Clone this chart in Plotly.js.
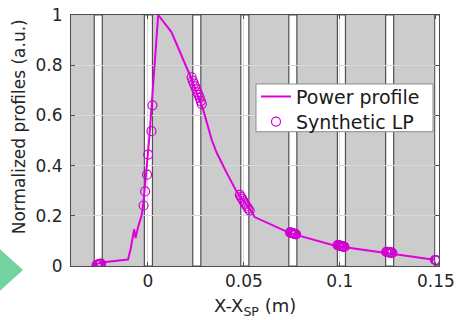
<!DOCTYPE html>
<html>
<head>
<meta charset="utf-8">
<script src="https://cdn.plot.ly/plotly-3.0.1.min.js"></script>
<style>html,body{margin:0;padding:0;background:#fff;}#chart{width:456px;height:320px;}</style>
</head>
<body>
<div id="chart"></div>
<script>
// Power profile (line)
const powerX = [-0.0285, -0.0233, -0.0103, -0.0089, -0.0071, -0.0064, -0.0050, -0.0033, -0.0024, -0.0010, -0.0004, 0.0007, 0.0054, 0.0123, 0.0219, 0.0288, 0.0332, 0.0358, 0.0410, 0.0462, 0.0505, 0.0540, 0.0556, 0.0740, 0.0980, 0.1240, 0.1492];
const powerY = [0.004, 0.015, 0.026, 0.070, 0.147, 0.111, 0.157, 0.200, 0.244, 0.350, 0.424, 0.504, 1.000, 0.932, 0.760, 0.624, 0.504, 0.452, 0.372, 0.297, 0.252, 0.217, 0.195, 0.131, 0.080, 0.053, 0.025];

// Synthetic LP (open circles)
const lpX = [
  -0.0267, -0.0263, -0.0259, -0.0255, -0.0251, -0.0247, -0.0243,
  -0.0022, -0.0014, -0.0004, 0.0002, 0.0019, 0.0024,
  0.0228, 0.0234, 0.0240, 0.0246, 0.0252, 0.0258, 0.0264, 0.0270, 0.0276, 0.0281,
  0.0479, 0.0485, 0.0491, 0.0497, 0.0503, 0.0509, 0.0516, 0.0523, 0.0530,
  0.0740, 0.0744, 0.0748, 0.0752, 0.0756, 0.0760, 0.0764, 0.0768, 0.0772,
  0.0988, 0.0992, 0.0996, 0.1000, 0.1004, 0.1008, 0.1012, 0.1016, 0.1020, 0.1024,
  0.1241, 0.1245, 0.1249, 0.1253, 0.1257, 0.1261, 0.1265, 0.1269, 0.1273,
  0.1495, 0.1498, 0.1501, 0.1504
];
const lpY = [
  0.004, 0.005, 0.006, 0.007, 0.008, 0.009, 0.010,
  0.241, 0.297, 0.364, 0.444, 0.537, 0.640,
  0.752, 0.738, 0.727, 0.716, 0.704, 0.692, 0.682, 0.670, 0.657, 0.645,
  0.283, 0.275, 0.268, 0.260, 0.252, 0.245, 0.237, 0.229, 0.221,
  0.134, 0.133, 0.132, 0.131, 0.130, 0.129, 0.128, 0.127, 0.126,
  0.083, 0.082, 0.082, 0.081, 0.080, 0.079, 0.078, 0.078, 0.077, 0.076,
  0.056, 0.056, 0.055, 0.055, 0.054, 0.054, 0.053, 0.053, 0.052,
  0.024, 0.023, 0.023, 0.022
];

// Probe gap positions (white stripes), left edges in m
const bandStart = [-0.0279, -0.0018, 0.0234, 0.0484, 0.0734, 0.0987, 0.1238, 0.1494];
const bandWidth = 0.0042;

const xTickVals = [0, 0.05, 0.1, 0.15];
const xTickText = ['0', '0.05', '0.1', '0.15'];
const yTickVals = [0, 0.2, 0.4, 0.6, 0.8, 1];
const yTickText = ['0', '0.2', '0.4', '0.6', '0.8', '1'];

const seriesNames = ['Power profile', 'Synthetic LP'];

const FONT = 'DejaVu Sans, sans-serif';
const MAG = '#e000e0';

const traces = [
  {x: powerX, y: powerY, type: 'scatter', mode: 'lines', name: seriesNames[0],
   line: {color: MAG, width: 2}, legend: 'legend'},
  {x: lpX, y: lpY, type: 'scatter', mode: 'markers', name: seriesNames[1],
   marker: {symbol: 'circle-open', size: 9, color: '#d000d0', line: {width: 1.2}}, legend: 'legend2'}
];

const shapes = bandStart.map(b => ({
  type: 'rect', xref: 'x', yref: 'paper', x0: b, x1: b + bandWidth, y0: 0, y1: 1,
  fillcolor: '#ffffff', line: {color: '#505050', width: 1.2}, layer: 'below'
}));
// legend frame
shapes.push({
  type: 'rect', xref: 'paper', yref: 'paper', x0: 0.5027, x1: 0.9837, y0: 0.5351, y1: 0.7251,
  fillcolor: '#ffffff', line: {color: '#8c8c8c', width: 1}, layer: 'above'
});
// green play-button fragment at the left edge
shapes.push({
  type: 'path', xref: 'paper', yref: 'paper',
  path: 'M -0.200,0.076 L -0.1304,-0.016 L -0.200,-0.108 Z',
  fillcolor: '#72d3a0', line: {width: 0}, layer: 'above'
});

const axisCommon = {
  showline: true, mirror: 'ticks', ticks: 'inside', ticklen: 4, tickwidth: 1,
  tickcolor: '#4d4d4d', linecolor: '#4d4d4d', linewidth: 1,
  showgrid: true, gridcolor: '#d9d9d9', gridwidth: 1, zeroline: false,
  tickfont: {family: FONT, size: 17, color: '#262626'}, tickmode: 'array'
};

const legendCommon = {
  xanchor: 'left', yanchor: 'middle', bgcolor: 'rgba(0,0,0,0)', borderwidth: 0,
  font: {family: FONT, size: 19, color: '#1a1a1a'}
};

const layout = {
  width: 456, height: 320,
  margin: {l: 71, r: 17, t: 15, b: 54},
  paper_bgcolor: '#ffffff', plot_bgcolor: '#cccccc',
  font: {family: FONT, color: '#262626'},
  showlegend: true,
  xaxis: Object.assign({}, axisCommon, {range: [-0.04, 0.1516], tickvals: xTickVals, ticktext: xTickText}),
  yaxis: Object.assign({}, axisCommon, {range: [0, 1], tickvals: yTickVals, ticktext: yTickText, ticklabelstandoff: 4}),
  legend: Object.assign({}, legendCommon, {x: 0.5027, y: 0.6745}),
  legend2: Object.assign({}, legendCommon, {x: 0.5027, y: 0.5749}),
  shapes: shapes,
  annotations: [
    {text: 'Normalized profiles (a.u.)', xref: 'paper', yref: 'paper', x: -0.139, y: 0.556,
     xanchor: 'center', yanchor: 'middle', textangle: -90, showarrow: false,
     font: {family: FONT, size: 17, color: '#262626'}},
    {text: 'X-X<sub>SP</sub> (m)', xref: 'paper', yref: 'paper', x: 0.5, y: -0.108,
     xanchor: 'center', yanchor: 'top', showarrow: false,
     font: {family: FONT, size: 18, color: '#262626'}}
  ]
};

Plotly.newPlot('chart', traces, layout, {displayModeBar: false, staticPlot: true});
</script>
</body>
</html>
